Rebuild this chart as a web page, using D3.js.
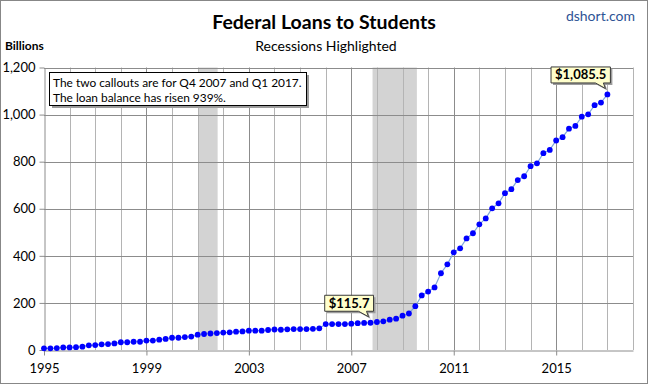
<!DOCTYPE html>
<html>
<head>
<meta charset="utf-8">
<script src="https://cdn.jsdelivr.net/npm/d3@7"></script>
<style>
  html, body { margin: 0; padding: 0; background: #fff; }
  svg { display: block; font-family: Lato, "Open Sans", sans-serif; }
</style>
</head>
<body>
<svg id="chart" width="648" height="384"></svg>
<script>
// ---- Data ----
const startYear = 1995;            // first quarter: Q1 1995
const loans = [                    // Federal loans to students, billions, quarterly Q1 1995 .. Q1 2017
  7, 7, 8, 11, 11, 12, 14, 20, 21, 24,
  25, 28, 33, 33, 35, 35, 40, 40, 44, 47,
  52, 52, 55, 57, 65, 68, 70, 72, 74, 75,
  78, 79, 82, 82, 82, 85, 87, 86, 88, 89,
  89, 89, 90, 92, 110, 110, 110, 110, 112, 114,
  115, 115.7, 119, 122, 129, 133, 146, 155, 186, 232,
  248, 266, 326, 364, 415, 432, 474, 496, 534, 559,
  602, 623, 666, 683, 722, 738, 781, 793, 836, 850,
  890, 904, 940, 952, 991, 1001, 1040, 1051, 1085.5
];
const recessions = [[2001.04, 2001.78], [2007.83, 2009.56]];
const xTickYears = [1995, 1999, 2003, 2007, 2011, 2015];
const yTicks = [0, 200, 400, 600, 800, 1000, 1200];
const callouts = [
  { index: 51, label: "$115.7" },
  { index: 88, label: "$1,085.5" }
];
const noteLines = ["The two callouts are for Q4 2007 and Q1 2017.", "The loan balance has risen 939%."];

const data = loans.map((v, i) => ({ t: startYear + i / 4, v }));

// ---- Layout ----
const W = 648, H = 384;
const svg = d3.select("#chart");
const x = d3.scaleLinear().domain([1995, 2018]).range([44, 633]);
const y = d3.scaleLinear().domain([0, 1200]).range([350, 67.5]);

// outer border
svg.append("rect").attr("x", 0.5).attr("y", 0.5).attr("width", W - 1).attr("height", H - 1)
  .attr("fill", "#fff").attr("stroke", "#878787");

// recession shading
svg.append("g").selectAll("rect").data(recessions).join("rect")
  .attr("x", d => x(d[0])).attr("width", d => x(d[1]) - x(d[0]))
  .attr("y", y(1200)).attr("height", y(0) - y(1200))
  .attr("fill", "#d3d3d3");

// vertical gridlines (every year)
const years = d3.range(1996, 2019);
svg.append("g").selectAll("line").data(years).join("line")
  .attr("x1", d => Math.round(x(d)) + 0.5).attr("x2", d => Math.round(x(d)) + 0.5)
  .attr("y1", y(1200)).attr("y2", y(0))
  .attr("stroke", d => xTickYears.includes(d) ? "#8c8c8c" : "#b4b4b4").attr("stroke-width", 1);

// horizontal gridlines
svg.append("g").selectAll("line").data(yTicks.filter(d => d > 0)).join("line")
  .attr("x1", x(1995)).attr("x2", x(2018))
  .attr("y1", d => Math.round(y(d)) + 0.5).attr("y2", d => Math.round(y(d)) + 0.5)
  .attr("stroke", "#8c8c8c");

// axes
const yAxis = svg.append("g").attr("transform", `translate(${Math.round(x(1995)) + 0.5},0)`)
  .call(d3.axisLeft(y).tickValues(yTicks).tickFormat(d3.format(",")).tickSize(5).tickSizeOuter(0));
const xAxis = svg.append("g").attr("transform", `translate(0,${Math.round(y(0)) + 0.5})`)
  .call(d3.axisBottom(x).tickValues(xTickYears).tickFormat(d3.format("d")).tickSize(5).tickSizeOuter(0));
[yAxis, xAxis].forEach(g => {
  g.select(".domain").attr("stroke", "#8c8c8c");
  g.selectAll(".tick line").attr("stroke", "#8c8c8c");
  g.selectAll("text").attr("fill", "#000").style("font-family", "Lato, sans-serif").style("font-size", "13px");
});
yAxis.selectAll("text").attr("x", -9);
xAxis.selectAll("text").attr("y", 13).attr("dy", "0.71em");

// line
svg.append("path").datum(data)
  .attr("fill", "none").attr("stroke", "#7fa6dc").attr("stroke-width", 1.2)
  .attr("d", d3.line().x(d => x(d.t)).y(d => y(d.v)));

// markers
svg.append("g").selectAll("circle").data(data).join("circle")
  .attr("cx", d => x(d.t)).attr("cy", d => y(d.v)).attr("r", 2.9)
  .attr("fill", "#0000ff");

// ---- Titles ----
svg.append("text").attr("x", 324).attr("y", 29).attr("text-anchor", "middle")
  .style("font-size", "19.5px").style("font-weight", "bold").attr("fill", "#000")
  .text("Federal Loans to Students");
svg.append("text").attr("x", 326).attr("y", 51).attr("text-anchor", "middle")
  .style("font-size", "14px").attr("fill", "#000")
  .text("Recessions Highlighted");
svg.append("text").attr("x", 635).attr("y", 21).attr("text-anchor", "end")
  .style("font-size", "14px").attr("fill", "#2e5395")
  .text("dshort.com");
svg.append("text").attr("x", 5).attr("y", 50)
  .style("font-size", "12px").style("font-weight", "bold").attr("fill", "#000")
  .text("Billions");

// ---- Note box ----
const note = svg.append("g");
note.append("rect").attr("x", 52).attr("y", 75).attr("width", 257).attr("height", 33).attr("fill", "#9c9c9c");
note.append("rect").attr("x", 49.5).attr("y", 72.5).attr("width", 257).attr("height", 33)
  .attr("fill", "#fff").attr("stroke", "#000");
note.selectAll("text").data(noteLines).join("text")
  .attr("x", 53).attr("y", (d, i) => 87 + i * 15)
  .style("font-size", "11.9px").attr("fill", "#000").text(d => d);

// ---- Callouts ----
callouts.forEach(c => {
  const d = data[c.index];
  const px = x(d.t), py = y(d.v);
  const g = svg.append("g");
  const t = g.append("text").style("font-size", "13px").style("font-weight", "bold").attr("fill", "#000").text(c.label);
  const tw = t.node().getComputedTextLength();
  const bw = tw + 8, bh = 16;
  const bx = px - bw + 3, by = py - 11.5 - bh;
  const tip = [px - 2, py - 6];
  const pathD = `M${bx},${by} H${bx + bw} V${by + bh} H${bx + bw - 7} L${tip[0]},${tip[1]} L${bx + bw - 15},${by + bh} H${bx} Z`;
  g.insert("path", "text").attr("d", pathD).attr("transform", "translate(2,2)").attr("fill", "#9c9c9c");
  g.insert("path", "text").attr("d", pathD).attr("fill", "#ffffcc").attr("stroke", "#3a3a3a");
  t.attr("x", bx + 4).attr("y", by + 12.5);
});
</script>
</body>
</html>
